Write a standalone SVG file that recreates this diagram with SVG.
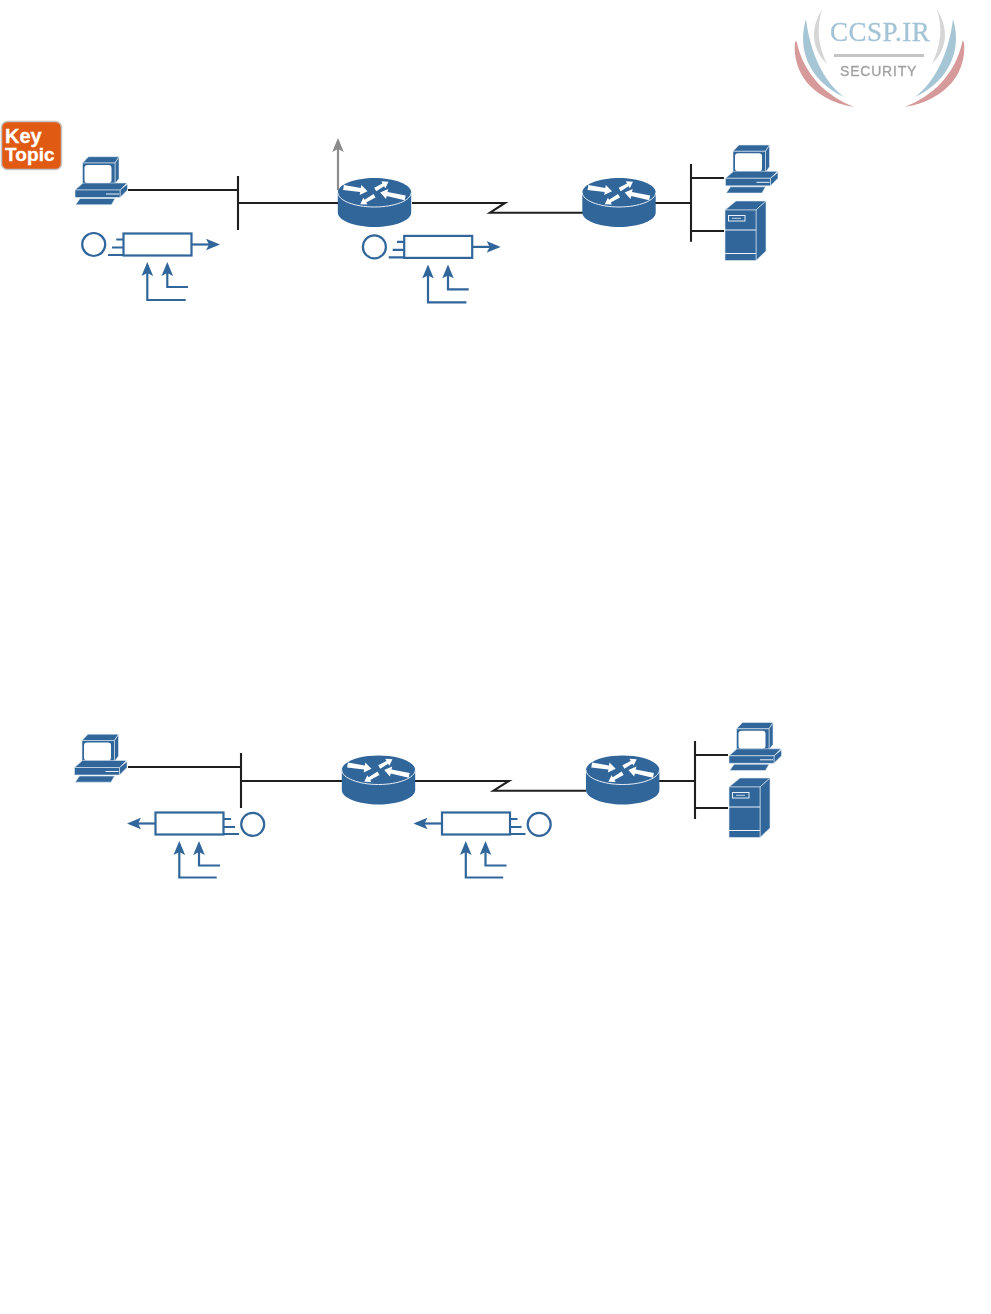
<svg xmlns="http://www.w3.org/2000/svg" xmlns:xlink="http://www.w3.org/1999/xlink" width="991" height="1314" viewBox="0 0 991 1314">
<style>
.wire{fill:none;stroke:#1f1f1f;stroke-width:2.1}
.flow{fill:none;stroke:#31669b;stroke-width:2.2}
.blue{fill:#31669b}
.edge{fill:#31669b;stroke:#e3ecf4;stroke-width:.6;stroke-linejoin:round}
.hl{fill:none;stroke:#eef3f8;stroke-width:1}
.wht{fill:#fff}
</style>
<defs>
<filter id="soft" x="-5%" y="-5%" width="110%" height="110%"><feGaussianBlur stdDeviation="0.5"/></filter>
<marker id="ah" markerUnits="userSpaceOnUse" markerWidth="14" markerHeight="12" viewBox="0 0 14 12" refX="11" refY="6" orient="auto"><path d="M0,.2L14,6L0,11.8L3,6Z" fill="#31669b"/></marker>
<marker id="ag" markerUnits="userSpaceOnUse" markerWidth="14" markerHeight="12" viewBox="0 0 14 12" refX="11" refY="6" orient="auto"><path d="M0,.2L14,6L0,11.8L3,6Z" fill="#8c8c8c"/></marker>
<g id="router">
<path class="blue" d="M-36.7,0C-36.7,-8 -20,-14.5 0,-14.5S36.7,-8 36.7,0V20C36.7,28 20,34.5 0,34.5S-36.7,28 -36.7,20Z"/>
<path fill="none" stroke="#e8eff6" stroke-width="1" d="M-36.7,0C-36.7,8 -20,14.5 0,14.5S36.7,8 36.7,0"/>
<path class="wht" d="M-31.4,-2.5L-14.3,-.4L-14.8,2.6L-7,-1.3L-13.2,-7.4L-13.7,-4.4L-30.6,-7.5Z"/>
<path class="wht" d="M31.2,2.9L13,-.5L13.7,-3.4L5.7,0L11.5,6.4L12.2,3.5L30.2,7.7Z"/>
<path class="wht" d="M1.7,-1.3L9.6,-6.3L10.8,-4.2L14,-10.7L6.8,-11.2L8,-9.1L-.3,-4.7Z"/>
<path class="wht" d="M1,5L-8.3,10.1L-7.1,12.1L-14.3,11.7L-11.1,5.3L-9.9,7.3L-1,1.6Z"/>
</g>
<g id="pc">
<path class="edge" d="M82.5,163L88.5,156.7H119L115,163Z"/>
<path class="edge" d="M115,163L119,157V178.5L115,184Z"/>
<rect class="edge" x="82.5" y="163" width="32.5" height="22"/>
<rect class="wht" x="84.5" y="165" width="27" height="18" rx="3"/>
<path class="edge" d="M75,190L83,183H127L120,190Z"/>
<path class="edge" d="M120,190L127.5,184V190L120,197.5Z"/>
<rect class="edge" x="75" y="190" width="45" height="7.5"/>
<path class="hl" d="M106,194H119"/>
<path class="edge" d="M80,198.5H115L111.5,204.7H75.7Z"/>
</g>
<g id="server">
<path class="edge" d="M725,210L736,201H766L756,210Z"/>
<path class="edge" d="M756,210L766,201V251L756,260.5Z"/>
<rect class="edge" x="725" y="210" width="31" height="50.5"/>
<path class="hl" d="M725,230H756M725,253.5H756"/>
<rect x="728.5" y="215.5" width="16.5" height="5.5" fill="none" stroke="#e8eff6" stroke-width="1"/>
<path d="M732,218.3H741" stroke="#e8eff6" stroke-width=".8"/>
</g>
<g id="swoosh">
<path fill="#d6d6d6" d="M822.3,9C811,27 810,47 827,64C818,45 816,28 822.3,9Z"/>
<path fill="#a6c6d6" d="M806,19C797,48 808,80 844,97C823,81 810,52 806,19Z"/>
<path fill="#d69a9a" d="M795,42C792,72 812,100 854,107C827,96 804,76 796.5,41Z"/>
</g>
</defs>

<g id="logo" filter="url(#soft)">
<use xlink:href="#swoosh" href="#swoosh"/>
<use xlink:href="#swoosh" href="#swoosh" transform="translate(1759,0) scale(-1,1)"/>
<text x="830" y="41" font-family="'Liberation Serif',serif" font-size="27" letter-spacing=".5" fill="#a3c3d6" stroke="#a3c3d6" stroke-width=".3">CCSP.IR</text>
<rect x="834" y="54" width="90" height="3" fill="#c4c4c4"/>
<text x="840" y="76" font-family="'Liberation Sans',sans-serif" font-size="14" letter-spacing=".8" fill="#a0a0a0" stroke="#a0a0a0" stroke-width=".3">SECURITY</text>
</g>

<g id="key-topic">
<rect x="1.5" y="121.5" width="60" height="48" rx="6" fill="#e05a14" stroke="#c4c4c4" stroke-width="1.5"/>
<text x="5" y="142.5" font-family="'Liberation Sans',sans-serif" font-weight="700" font-size="20" fill="#fff" stroke="#fff" stroke-width=".3">Key</text>
<text x="5" y="160.5" font-family="'Liberation Sans',sans-serif" font-weight="700" font-size="19" letter-spacing=".1" fill="#fff" stroke="#fff" stroke-width=".3">Topic</text>
</g>

<g id="connectors">
<path class="wire" d="M128,190H238M238,176V230M238,203H338"/>
<path class="wire" d="M412,203H505L490,212.7H583"/>
<path class="wire" d="M655,203H691M691,164V241.7M691,178H724M691,231H724"/>
<path fill="none" stroke="#8c8c8c" stroke-width="2.2" marker-end="url(#ag)" d="M338,190V141"/>
<path class="wire" d="M128,767H241M241,753V808M241,781H342"/>
<path class="wire" d="M415,781H509L493.5,790.7H586"/>
<path class="wire" d="M659,781H695M695,741V819M695,755H728M695,808H728"/>
</g>

<use id="router-1" xlink:href="#router" href="#router" x="374.5" y="192.5"/>
<use id="router-2" xlink:href="#router" href="#router" x="619" y="192.5"/>
<use id="router-3" xlink:href="#router" href="#router" x="378.5" y="770"/>
<use id="router-4" xlink:href="#router" href="#router" x="622.7" y="770"/>

<use id="pc-1" xlink:href="#pc" href="#pc"/>
<use id="pc-2" xlink:href="#pc" href="#pc" x="650.5" y="-11.7"/>
<use id="pc-3" xlink:href="#pc" href="#pc" x="-.5" y="577.5"/>
<use id="pc-4" xlink:href="#pc" href="#pc" x="654" y="565.8"/>

<use id="server-1" xlink:href="#server" href="#server"/>
<use id="server-2" xlink:href="#server" href="#server" x="4" y="577"/>

<g id="queue-1">
<circle class="flow" cx="93.7" cy="244.5" r="11.5"/>
<rect class="flow" x="123.5" y="233.5" width="68" height="22"/>
<path class="flow" d="M116.3,239.5H123.5M112,247.5H123.5M108,255H123.5"/>
<path class="flow" marker-end="url(#ah)" d="M191.5,244.5H217"/>
<path class="flow" marker-end="url(#ah)" d="M185.7,300H147.3V265"/>
<path class="flow" marker-end="url(#ah)" d="M188,287H167.3V265"/>
</g>
<g id="queue-2" transform="translate(280.7,2.4)">
<circle class="flow" cx="93.7" cy="244.5" r="11.5"/>
<rect class="flow" x="123.5" y="233.5" width="68" height="22"/>
<path class="flow" d="M116.3,239.5H123.5M112,247.5H123.5M108,255H123.5"/>
<path class="flow" marker-end="url(#ah)" d="M191.5,244.5H217"/>
<path class="flow" marker-end="url(#ah)" d="M185.7,300H147.3V265"/>
<path class="flow" marker-end="url(#ah)" d="M188,287H167.3V265"/>
</g>
<g id="queue-3">
<circle class="flow" cx="252.7" cy="824.3" r="11.5"/>
<rect class="flow" x="155.5" y="812.5" width="68" height="22"/>
<path class="flow" d="M223.5,819H231M223.5,827H235M223.5,834H239"/>
<path class="flow" marker-end="url(#ah)" d="M155.5,823.5H130"/>
<path class="flow" marker-end="url(#ah)" d="M216.7,877.5H179.3V844"/>
<path class="flow" marker-end="url(#ah)" d="M220,865.5H199V844"/>
</g>
<g id="queue-4" transform="translate(286.5,0)">
<circle class="flow" cx="252.7" cy="824.3" r="11.5"/>
<rect class="flow" x="155.5" y="812.5" width="68" height="22"/>
<path class="flow" d="M223.5,819H231M223.5,827H235M223.5,834H239"/>
<path class="flow" marker-end="url(#ah)" d="M155.5,823.5H130"/>
<path class="flow" marker-end="url(#ah)" d="M216.7,877.5H179.3V844"/>
<path class="flow" marker-end="url(#ah)" d="M220,865.5H199V844"/>
</g>
</svg>
